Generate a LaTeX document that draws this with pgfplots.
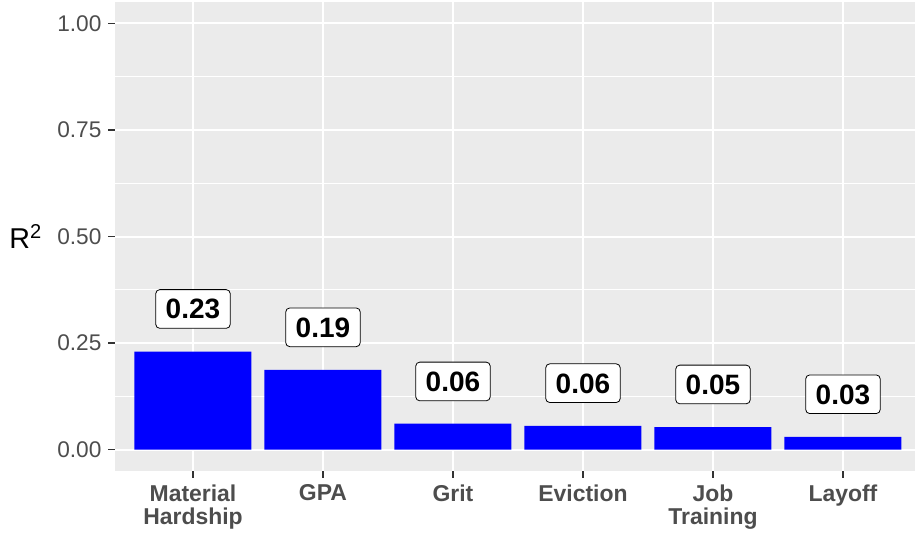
\documentclass[border=0pt]{standalone}
\usepackage{pgfplots}
\pgfplotsset{compat=1.18}
\usepackage{fontspec}
\setmainfont{Liberation Sans}
\definecolor{panelgrey}{HTML}{EBEBEB}
\definecolor{ticktext}{HTML}{4D4D4D}
\definecolor{tickdark}{HTML}{333333}
\definecolor{barblue}{HTML}{0000FF}
\begin{document}
\begin{tikzpicture}
\begin{axis}[
  scale only axis,
  width=600pt, height=351.75pt,
  xmin=0.4, xmax=6.554, ymin=-0.05, ymax=1.05,
  axis background/.style={fill=panelgrey},
  axis line style={draw=none},
  xtick pos=bottom, ytick pos=left,
  xtick={1,2,3,4,5,6},
  xticklabels={{Material\\Hardship},GPA,Grit,Eviction,{Job\\Training},Layoff},
  xticklabel style={align=center, font=\fontsize{17.2}{17.5}\selectfont\bfseries, text=ticktext, anchor=north, inner sep=0pt, yshift=-5pt},
  ytick={0,0.25,0.5,0.75,1},
  yticklabels={0.00,0.25,0.50,0.75,1.00},
  yticklabel style={font=\fontsize{17}{18}\selectfont, text=ticktext, anchor=east, inner sep=0pt, xshift=-5pt},
  minor ytick={0.125,0.375,0.625,0.875},
  xmajorgrids, ymajorgrids, yminorgrids,
  major grid style={white, line width=1.5pt},
  minor grid style={white, line width=0.75pt},
  tick align=outside,
  major tick length=5pt,
  minor tick length=0pt,
  tick style={draw=tickdark, line width=1.2pt},
  ylabel={R\textsuperscript{2}},
  ylabel style={rotate=-90, anchor=center, at={(rel axis cs:0,0.5)}, xshift=-67pt, font=\fontsize{21.5}{24}\selectfont, text=black},
  clip=false,
]
\addplot[ybar, bar width=0.9, fill=barblue, draw=none] coordinates {
  (1,0.230) (2,0.187) (3,0.061) (4,0.056) (5,0.053) (6,0.030)
};
\addplot[only marks, mark=none, nodes near coords, point meta=explicit symbolic,
  nodes near coords style={anchor=center, draw=black, line width=0.6pt, fill=white, rounded corners=3pt,
    inner xsep=7.5pt, inner ysep=7pt, text height=15pt, text depth=0pt,
    font=\fontsize{21}{23}\selectfont\bfseries, text=black}]
  table[meta=lab] {
x y lab
1 0.330 0.23
2 0.287 0.19
3 0.160 0.06
4 0.156 0.06
5 0.153 0.05
6 0.130 0.03
};
\coordinate (pSW) at (rel axis cs:0,0);
\coordinate (pNE) at (rel axis cs:1,1);
\end{axis}
\pgfresetboundingbox
\path ([shift={(-86.25pt,-46.5pt)}]pSW) rectangle ([shift={(0pt,1.5pt)}]pNE);
\end{tikzpicture}
\end{document}
